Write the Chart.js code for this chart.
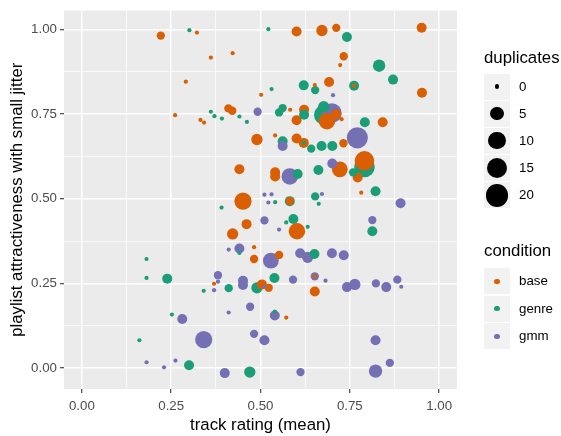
<!DOCTYPE html>
<html>
<head>
<meta charset="utf-8">
<script src="https://cdn.jsdelivr.net/npm/chart.js@4.4.0/dist/chart.umd.min.js"></script>
<style>
  html, body { margin: 0; padding: 0; background: #fff; }
  #wrap { position: relative; width: 561px; height: 436px; font-family: "Liberation Sans", Arial, sans-serif; }
  #chart { position: absolute; left: 0; top: 0; }
  .ltitle { position: absolute; left: 484px; font-size: 16.8px; line-height: 20px; color: #000; }
  .lkey { position: absolute; left: 484px; width: 26px; height: 26px; background: #F2F2F2; }
  .lkey span { position: absolute; border-radius: 50%; }
  .llabel { position: absolute; left: 519px; font-size: 13.3px; line-height: 16px; color: #000; }
</style>
</head>
<body>
<div id="wrap">
  <canvas id="chart" width="561" height="436"></canvas>
  <div id="legend"></div>
</div>
<script>
// ---- data (x = track rating, y = attractiveness, dup = duplicates) ----
const conditions = ['base', 'genre', 'gmm'];
const sizeBreaks = [0, 5, 10, 15, 20];
const gridValues = [0, 0.125, 0.25, 0.375, 0.5, 0.625, 0.75, 0.875, 1];

const baseRating = [0.221, 0.322, 0.361, 0.422, 0.291, 0.261, 0.332, 0.342, 0.410, 0.421, 0.502, 0.490, 0.601, 0.672,
  0.712, 0.951, 0.733, 0.723, 0.952, 0.652, 0.692, 0.762, 0.583, 0.622, 0.601, 0.686, 0.712, 0.727, 0.842, 0.541,
  0.601, 0.621, 0.732, 0.722, 0.791, 0.772, 0.541, 0.541, 0.782, 0.582, 0.602, 0.482, 0.441, 0.451, 0.461, 0.422,
  0.482, 0.370, 0.552, 0.572, 0.652, 0.652, 0.504, 0.523];
const baseAttract = [0.982, 0.991, 0.917, 0.930, 0.846, 0.747, 0.733, 0.725, 0.767, 0.760, 0.807, 0.675, 0.994, 0.997,
  1.005, 1.005, 0.921, 0.895, 0.813, 0.836, 0.845, 0.834, 0.763, 0.763, 0.732, 0.729, 0.750, 0.735, 0.726, 0.687,
  0.678, 0.665, 0.664, 0.587, 0.612, 0.563, 0.578, 0.566, 0.518, 0.493, 0.404, 0.357, 0.587, 0.493, 0.425, 0.396,
  0.322, 0.249, 0.334, 0.149, 0.226, 0.271, 0.247, 0.237];
const baseDup = [1, 0, 0, 0, 0, 0, 0, 0, 1, 1, 0, 3, 2, 3,
  1, 2, 1, 0, 2, 0, 2, 0, 0, 2, 2, 9, 2, 0, 2, 0,
  2, 2, 1, 8, 14, 2, 2, 2, 0, 1, 9, 0, 2, 10, 2, 3,
  1, 0, 1, 0, 2, 0, 2, 1];

const genreRating = [0.301, 0.522, 0.742, 0.832, 0.871, 0.621, 0.653, 0.762, 0.531, 0.361, 0.371, 0.392, 0.441, 0.462,
  0.552, 0.562, 0.622, 0.677, 0.677, 0.792, 0.562, 0.621, 0.642, 0.671, 0.701, 0.791, 0.759, 0.604, 0.662, 0.822,
  0.541, 0.582, 0.653, 0.663, 0.592, 0.572, 0.632, 0.813, 0.391, 0.441, 0.181, 0.181, 0.239, 0.341, 0.411, 0.490,
  0.252, 0.161, 0.300, 0.470, 0.540, 0.539, 0.651];
const genreAttract = [0.998, 1.001, 0.978, 0.893, 0.852, 0.835, 0.821, 0.834, 0.824, 0.757, 0.744, 0.737, 0.743, 0.727,
  0.755, 0.768, 0.748, 0.748, 0.772, 0.726, 0.670, 0.665, 0.648, 0.656, 0.656, 0.594, 0.578, 0.573, 0.585, 0.522,
  0.490, 0.493, 0.507, 0.485, 0.440, 0.430, 0.417, 0.404, 0.474, 0.340, 0.322, 0.266, 0.264, 0.228, 0.236, 0.237,
  0.158, 0.082, 0.008, -0.012, 0.167, 0.266, 0.337];
const genreDup = [0, 0, 2, 4, 2, 2, 1, 2, 0, 0, 0, 0, 0, 0,
  1, 1, 2, 14, 3, 2, 2, 0, 1, 2, 2, 16, 1, 2, 2, 2,
  0, 2, 1, 0, 2, 0, 0, 2, 0, 0, 0, 0, 2, 0, 1, 3,
  0, 0, 2, 3, 0, 2, 2];

const gmmRating = [0.492, 0.703, 0.700, 0.771, 0.562, 0.701, 0.582, 0.892, 0.511, 0.531, 0.522, 0.672, 0.511, 0.552,
  0.813, 0.441, 0.411, 0.381, 0.381, 0.370, 0.451, 0.451, 0.411, 0.471, 0.281, 0.482, 0.341, 0.181, 0.262, 0.230,
  0.400, 0.612, 0.822, 0.862, 0.822, 0.511, 0.540, 0.652, 0.682, 0.591, 0.511, 0.742, 0.764, 0.823, 0.852, 0.883,
  0.894, 0.529, 0.611, 0.632, 0.700, 0.733];
const gmmAttract = [0.757, 0.806, 0.753, 0.680, 0.656, 0.604, 0.566, 0.487, 0.512, 0.513, 0.489, 0.514, 0.436, 0.409,
  0.437, 0.353, 0.350, 0.274, 0.255, 0.230, 0.258, 0.245, 0.164, 0.181, 0.145, 0.101, 0.084, 0.017, 0.022, 0.002,
  -0.015, -0.012, -0.009, 0.015, 0.082, 0.082, 0.155, 0.271, 0.258, 0.261, 0.240, 0.239, 0.247, 0.250, 0.239, 0.261,
  0.240, 0.317, 0.339, 0.327, 0.339, 0.333];
const gmmDup = [1, 0, 14, 17, 2, 2, 9, 2, 0, 0, 0, 0, 1, 0,
  1, 2, 0, 1, 0, 0, 2, 2, 0, 1, 2, 1, 10, 0, 0, 0,
  2, 1, 5, 1, 2, 2, 2, 1, 0, 1, 0, 2, 3, 1, 2, 1,
  0, 8, 2, 3, 2, 2];

// ---- styling ----
const FONT = '"Liberation Sans", Arial, sans-serif';
const COLORS = { base: '#D95F02', genre: '#1B9E77', gmm: '#7570B3' };

// ggplot area scale: diameter grows with sqrt(duplicates)
const radiusFor = (d) => 2.1 + 2.05 * Math.sqrt(d);
const isMajor = (v) => Math.abs(v * 4 - Math.round(v * 4)) < 1e-9;

const series = {
  base: [baseRating, baseAttract, baseDup],
  genre: [genreRating, genreAttract, genreDup],
  gmm: [gmmRating, gmmAttract, gmmDup],
};

// one layer, bigger points first so the small ones stay visible on top
const points = [];
conditions.forEach((c) => {
  const [xs, ys, ds] = series[c];
  xs.forEach((x, i) => points.push({ x, y: ys[i], dup: ds[i], cond: c }));
});
points.sort((a, b) => b.dup - a.dup);

const panelBg = {
  id: 'panelBg',
  beforeDraw(chart) {
    const { ctx, chartArea: a } = chart;
    ctx.save();
    ctx.fillStyle = '#EBEBEB';
    ctx.fillRect(a.left, a.top, a.right - a.left, a.bottom - a.top);
    ctx.restore();
  },
};

const gridOpts = {
  color: '#FFFFFF',
  lineWidth: (c) => (c.tick && isMajor(c.tick.value) ? 1.4 : 0.7),
  tickColor: (c) => (c.tick && isMajor(c.tick.value) ? '#333333' : 'rgba(0,0,0,0)'),
  tickWidth: 1.1,
  tickLength: 4,
};
const tickOpts = (pad) => ({
  autoSkip: false,
  maxRotation: 0,
  padding: pad,
  color: '#4D4D4D',
  font: { family: FONT, size: 13.3 },
  callback: (v) => (isMajor(v) ? Number(v).toFixed(2) : ''),
});

new Chart(document.getElementById('chart'), {
  type: 'scatter',
  data: {
    datasets: [{
      data: points,
      pointRadius: (c) => radiusFor(c.raw.dup),
      pointHoverRadius: (c) => radiusFor(c.raw.dup),
      pointBackgroundColor: (c) => COLORS[c.raw.cond],
      pointBorderWidth: 0,
    }],
  },
  options: {
    responsive: false,
    animation: false,
    events: [],
    layout: { padding: { top: 6, right: 104, bottom: 0, left: 0 } },
    plugins: { legend: { display: false }, tooltip: { enabled: false } },
    scales: {
      x: {
        type: 'linear',
        min: -0.05,
        max: 1.05,
        afterBuildTicks: (s) => { s.ticks = gridValues.map((v) => ({ value: v })); },
        afterFit: (s) => { s.height = 47; s.paddingLeft = 0; s.paddingRight = 0; },
        border: { display: false },
        grid: gridOpts,
        ticks: tickOpts(5),
        title: { display: true, text: 'track rating (mean)', color: '#000', font: { family: FONT, size: 16.8 }, padding: { top: 0, bottom: 1 } },
      },
      y: {
        type: 'linear',
        min: -0.062,
        max: 1.056,
        afterBuildTicks: (s) => { s.ticks = gridValues.map((v) => ({ value: v })); },
        afterFit: (s) => { s.width = 64; s.paddingTop = 0; s.paddingBottom = 0; },
        border: { display: false },
        grid: gridOpts,
        ticks: tickOpts(3),
        title: { display: true, text: 'playlist attractiveness with small jitter', color: '#000', font: { family: FONT, size: 16.8 }, padding: { top: 7, bottom: 0 } },
      },
    },
  },
  plugins: [panelBg],
});

// ---- ggplot-style legends ----
const legend = document.getElementById('legend');
function addTitle(text, top) {
  const t = document.createElement('div');
  t.className = 'ltitle';
  t.style.top = top + 'px';
  t.textContent = text;
  legend.appendChild(t);
}
function addKey(cy, r, color, label) {
  const k = document.createElement('div');
  k.className = 'lkey';
  k.style.top = (cy - 13) + 'px';
  const dot = document.createElement('span');
  dot.style.width = dot.style.height = (2 * r) + 'px';
  dot.style.left = dot.style.top = (13 - r) + 'px';
  dot.style.background = color;
  k.appendChild(dot);
  legend.appendChild(k);
  const l = document.createElement('div');
  l.className = 'llabel';
  l.style.top = (cy - 8) + 'px';
  l.textContent = label;
  legend.appendChild(l);
}
addTitle('duplicates', 48);
sizeBreaks.forEach((d, i) => addKey(86.5 + 27.2 * i, radiusFor(d), '#000', String(d)));
addTitle('condition', 241);
conditions.forEach((c, i) => addKey(281.2 + 27.6 * i, 2.6, COLORS[c], c));
</script>
</body>
</html>
